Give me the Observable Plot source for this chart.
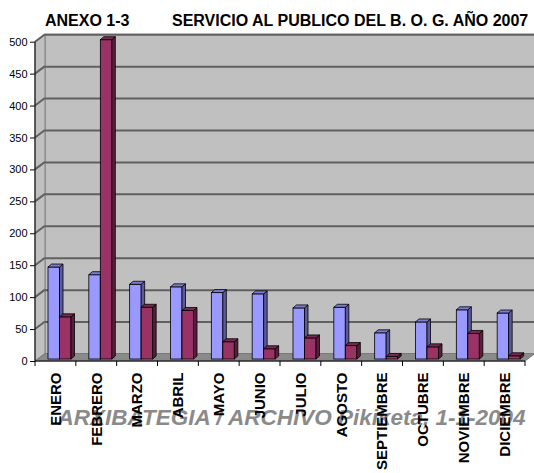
<!DOCTYPE html>
<html><head><meta charset="utf-8">
<script src="https://cdn.jsdelivr.net/npm/d3@7"></script>
<script src="https://cdn.jsdelivr.net/npm/@observablehq/plot@0.6"></script>
<style>
body{margin:0;background:#fff;font-family:"Liberation Sans",Arial,sans-serif;}
#title{position:relative;height:30px;width:534px;}
#title span{position:absolute;top:13px;font-weight:bold;font-size:16px;line-height:16px;white-space:nowrap;color:#000;}
</style></head><body>
<div id="title"><span id="t1" style="left:45px"></span><span id="t2" style="left:172px"></span></div>
<div id="chart"></div>
<script>
const titleLeft = "ANEXO 1-3";
const titleRight = "SERVICIO AL PUBLICO DEL B. O. G. AÑO 2007";
const months = ["ENERO","FEBRERO","MARZO","ABRIL","MAYO","JUNIO","JULIO","AGOSTO","SEPTIEMBRE","OCTUBRE","NOVIEMBRE","DICIEMBRE"];
const series1 = [144,132,117,113,104,102,80,81,41,58,77,72];
const series2 = [66,500,81,76,27,16,33,21,4,19,40,5];
const yTicks = [0,50,100,150,200,250,300,350,400,450,500];
const watermark = "ARXIBATEGIA / ARCHIVO Pikiketa, 1-1-2004";

document.getElementById("t1").textContent = titleLeft;
document.getElementById("t2").textContent = titleRight;

const W = 534, H = 443, ML = 35, MR = 9, MT = 11.7, MB = 112;
const bw = (W - ML - MR) / months.length;
const WX = 10, WY = -7.5;   // wall depth
const BX = 5, BY = -2;      // bar placement depth
const DX = 3.5, DY = -3;    // bar depth
const yMax = yTicks[yTicks.length - 1];

const data1 = months.map((m, i) => ({month: m, value: series1[i]}));
const data2 = months.map((m, i) => ({month: m, value: series2[i]}));

function walls(index, {x, y}, values, {width, marginLeft, marginRight}) {
  const g = d3.create("svg:g");
  const xl = marginLeft, xr = width - marginRight;
  const y0 = y(0), y1 = y(yMax);
  g.append("rect").attr("x", xl + WX).attr("y", y1 + WY).attr("width", xr - xl).attr("height", y0 - y1)
    .attr("fill", "#c0c0c0").attr("stroke", "#808080");
  g.append("path").attr("d", `M${xl},${y0}L${xl},${y1}L${xl+WX},${y1+WY}L${xl+WX},${y0+WY}Z`)
    .attr("fill", "#c0c0c0").attr("stroke", "#808080");
  for (const t of yTicks) {
    if (t === 0) continue;
    g.append("line").attr("x1", xl).attr("y1", y(t)).attr("x2", xl + WX).attr("y2", y(t) + WY)
      .attr("stroke", "#606060").attr("stroke-width", 2);
  }
  return g.node();
}
function floor(index, {x, y}, values, {width, marginLeft, marginRight}) {
  const g = d3.create("svg:g");
  const xl = marginLeft, xr = width - marginRight;
  const y0 = y(0);
  g.append("path").attr("d", `M${xl},${y0}L${xl+WX},${y0+WY}L${xr+WX},${y0+WY}L${xr},${y0}Z`)
    .attr("fill", "#8a8a8a").attr("stroke", "#7a7a7a");
  return g.node();
}
function barFaces(vals, L, Wd, side, top) {
  return (index, {x, y}) => {
    const g = d3.create("svg:g").attr("stroke", "#000").attr("stroke-width", 0.8).attr("stroke-linejoin", "round");
    months.forEach((m, i) => {
      const x0 = x(m) + L + BX, x1 = x0 + Wd;
      const yt = y(vals[i]) + BY, yb = y(0) + BY;
      g.append("path").attr("d", `M${x1},${yt}L${x1+DX},${yt+DY}L${x1+DX},${yb+DY}L${x1},${yb}Z`).attr("fill", side);
      g.append("path").attr("d", `M${x0},${yt}L${x0+DX},${yt+DY}L${x1+DX},${yt+DY}L${x1},${yt}Z`).attr("fill", top);
    });
    return g.node();
  };
}
function axes(index, {x, y}, values, {width, marginLeft, marginRight}) {
  const g = d3.create("svg:g").attr("stroke", "#000").attr("stroke-width", 1);
  const y0 = y(0);
  g.append("line").attr("x1", marginLeft).attr("x2", marginLeft).attr("y1", y0).attr("y2", y(yMax));
  g.append("line").attr("x1", marginLeft).attr("x2", width - marginRight).attr("y1", y0).attr("y2", y0);
  const edges = months.map(m => x(m)).concat([x(months[months.length - 1]) + x.bandwidth()]);
  for (const e of edges) g.append("line").attr("x1", e).attr("x2", e).attr("y1", y0).attr("y2", y0 + 5);
  return g.node();
}

const L1 = 8, W1 = 11.5, L2 = 19.5, W2 = 11.5;

const chart = Plot.plot({
  width: W, height: H,
  marginLeft: ML, marginRight: MR, marginTop: MT, marginBottom: MB,
  style: {fontFamily: "Liberation Sans, Arial, sans-serif", fontSize: "11px", background: "white", color: "black", overflow: "visible"},
  x: {domain: months, padding: 0, round: false, axis: null},
  y: {domain: [0, yMax], ticks: yTicks, tickSize: 5, tickPadding: 3, label: null},
  marks: [
    walls,
    Plot.ruleY(yTicks.filter(t => t > 0), {dx: WX, dy: WY, stroke: "#606060", strokeWidth: 2}),
    floor,
    Plot.barY(data1, {x: "month", y: "value", insetLeft: L1, insetRight: bw - L1 - W1, dx: BX, dy: BY, fill: "#9999ff", stroke: "#000", strokeWidth: 0.8}),
    barFaces(series1, L1, W1, "#5a5a9c", "#7c7cd0"),
    Plot.barY(data2, {x: "month", y: "value", insetLeft: L2, insetRight: bw - L2 - W2, dx: BX, dy: BY, fill: "#993366", stroke: "#000", strokeWidth: 0.8}),
    barFaces(series2, L2, W2, "#5a1e3c", "#7a2952"),
    axes,
    Plot.text([watermark], {frameAnchor: "bottom-left", dx: 22, dy: 63, lineAnchor: "bottom", textAnchor: "start", fontSize: 22.5, fontWeight: "bold", fontStyle: "italic", fill: "#8a8a8a"}),
    Plot.text(months, {x: d => d, frameAnchor: "bottom", dy: 11, rotate: -90, textAnchor: "end", lineAnchor: "middle", fontSize: 15, fontWeight: "bold", fill: "#000"})
  ]
});
document.getElementById("chart").appendChild(chart);
</script>
</body></html>
